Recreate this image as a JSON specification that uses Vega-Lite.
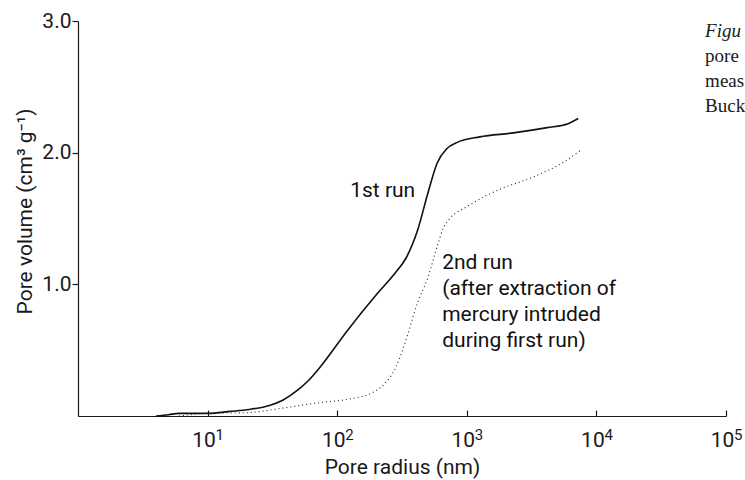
{
  "$schema": "https://vega.github.io/schema/vega-lite/v6.json",
  "autosize": {"type": "none"},
  "padding": {"left": 78, "top": 21, "right": 19, "bottom": 64},
  "width": 648,
  "height": 395,
  "background": "white",
  "config": {
    "view": {"stroke": null},
    "font": "Roboto",
    "axis": {"grid": false, "domainColor": "#1a1a1a", "tickColor": "#1a1a1a", "labelColor": "#1a1a1a", "titleColor": "#1a1a1a", "labelFont": "Roboto", "titleFont": "Roboto", "labelFontSize": 21, "titleFontSize": 21, "titleFontWeight": "normal", "domainWidth": 1.2, "tickWidth": 1.2}
  },
  "datasets": {
    "curves": [
      {"run": "1st", "radius": 4, "volume": 0.0},
      {"run": "1st", "radius": 5, "volume": 0.01},
      {"run": "1st", "radius": 6, "volume": 0.02},
      {"run": "1st", "radius": 10, "volume": 0.02},
      {"run": "1st", "radius": 15, "volume": 0.035},
      {"run": "1st", "radius": 21, "volume": 0.05},
      {"run": "1st", "radius": 30, "volume": 0.08},
      {"run": "1st", "radius": 38, "volume": 0.12},
      {"run": "1st", "radius": 50, "volume": 0.2},
      {"run": "1st", "radius": 60, "volume": 0.27},
      {"run": "1st", "radius": 75, "volume": 0.38},
      {"run": "1st", "radius": 120, "volume": 0.65},
      {"run": "1st", "radius": 204, "volume": 0.93},
      {"run": "1st", "radius": 282, "volume": 1.09},
      {"run": "1st", "radius": 340, "volume": 1.2},
      {"run": "1st", "radius": 417, "volume": 1.41},
      {"run": "1st", "radius": 500, "volume": 1.69},
      {"run": "1st", "radius": 590, "volume": 1.92},
      {"run": "1st", "radius": 700, "volume": 2.03},
      {"run": "1st", "radius": 850, "volume": 2.08},
      {"run": "1st", "radius": 1260, "volume": 2.12},
      {"run": "1st", "radius": 2290, "volume": 2.15},
      {"run": "1st", "radius": 4170, "volume": 2.19},
      {"run": "1st", "radius": 6030, "volume": 2.22},
      {"run": "1st", "radius": 7240, "volume": 2.26},
      {"run": "2nd", "radius": 6, "volume": 0.0},
      {"run": "2nd", "radius": 10, "volume": 0.02},
      {"run": "2nd", "radius": 20, "volume": 0.025},
      {"run": "2nd", "radius": 38, "volume": 0.06},
      {"run": "2nd", "radius": 71, "volume": 0.1},
      {"run": "2nd", "radius": 126, "volume": 0.13},
      {"run": "2nd", "radius": 180, "volume": 0.17},
      {"run": "2nd", "radius": 230, "volume": 0.24},
      {"run": "2nd", "radius": 280, "volume": 0.36},
      {"run": "2nd", "radius": 330, "volume": 0.54},
      {"run": "2nd", "radius": 417, "volume": 0.86},
      {"run": "2nd", "radius": 500, "volume": 1.05},
      {"run": "2nd", "radius": 600, "volume": 1.31},
      {"run": "2nd", "radius": 660, "volume": 1.43},
      {"run": "2nd", "radius": 740, "volume": 1.5},
      {"run": "2nd", "radius": 1000, "volume": 1.59},
      {"run": "2nd", "radius": 1780, "volume": 1.72},
      {"run": "2nd", "radius": 3160, "volume": 1.81},
      {"run": "2nd", "radius": 5620, "volume": 1.93},
      {"run": "2nd", "radius": 7600, "volume": 2.02}
    ],
    "exponents": [
      {"radius": 10, "power": "1"},
      {"radius": 100, "power": "2"},
      {"radius": 1000, "power": "3"},
      {"radius": 10000, "power": "4"},
      {"radius": 100000, "power": "5"}
    ]
  },
  "layer": [
    {
      "data": {"name": "curves"},
      "transform": [{"filter": "datum.run == '1st'"}],
      "mark": {"type": "line", "interpolate": "monotone", "color": "#111111", "strokeWidth": 1.6},
      "encoding": {
        "x": {
          "field": "radius", "type": "quantitative",
          "scale": {"type": "log", "domain": [1, 100000], "nice": false},
          "axis": {
            "title": "Pore radius (nm)",
            "values": [10, 100, 1000, 10000, 100000],
            "labelExpr": "'10'",
            "labelFlush": false,
            "labelAlign": "center",
            "labelOffset": -4,
            "tickSize": -6,
            "labelPadding": 19,
            "titlePadding": 6
          }
        },
        "y": {
          "field": "volume", "type": "quantitative",
          "scale": {"domain": [0, 3], "nice": false},
          "axis": {
            "title": "Pore volume (cm³ g⁻¹)",
            "values": [1, 2, 3],
            "format": ".1f",
            "tickSize": 6,
            "labelPadding": 1,
            "titlePadding": 6,
            "titleY": 190
          }
        }
      }
    },
    {
      "data": {"name": "curves"},
      "transform": [{"filter": "datum.run == '2nd'"}],
      "mark": {"type": "line", "interpolate": "monotone", "color": "#222222", "strokeWidth": 1.1, "strokeDash": [1, 3]},
      "encoding": {
        "x": {"field": "radius", "type": "quantitative"},
        "y": {"field": "volume", "type": "quantitative"}
      }
    },
    {
      "data": {"name": "exponents"},
      "mark": {"type": "text", "align": "left", "baseline": "alphabetic", "dx": 8, "dy": 24, "font": "Roboto", "fontSize": 15, "color": "#1a1a1a", "clip": false},
      "encoding": {
        "x": {"field": "radius", "type": "quantitative"},
        "y": {"datum": 0},
        "text": {"field": "power"}
      }
    },
    {
      "data": {"values": [{}]},
      "mark": {"type": "text", "text": "1st run", "align": "left", "baseline": "alphabetic", "font": "Roboto", "fontSize": 21, "color": "#111111"},
      "encoding": {"x": {"datum": 126}, "y": {"datum": 1.66}}
    },
    {
      "data": {"values": [{}]},
      "mark": {"type": "text", "text": ["2nd run", "(after extraction of", "mercury intruded", "during first run)"], "lineHeight": 26, "align": "left", "baseline": "alphabetic", "font": "Roboto", "fontSize": 21, "color": "#111111"},
      "encoding": {"x": {"datum": 646}, "y": {"datum": 1.12}}
    },
    {
      "data": {"values": [{}]},
      "mark": {"type": "text", "text": "Figu", "align": "left", "baseline": "alphabetic", "font": "Liberation Serif", "fontStyle": "italic", "fontSize": 19, "color": "#1a1a1a", "clip": false},
      "encoding": {"x": {"datum": 69000}, "y": {"datum": 2.88}}
    },
    {
      "data": {"values": [{}]},
      "mark": {"type": "text", "text": ["pore", "meas", "Buck"], "lineHeight": 25, "align": "left", "baseline": "alphabetic", "font": "Liberation Serif", "fontSize": 19, "color": "#1a1a1a", "clip": false},
      "encoding": {"x": {"datum": 69000}, "y": {"datum": 2.69}}
    }
  ]
}
